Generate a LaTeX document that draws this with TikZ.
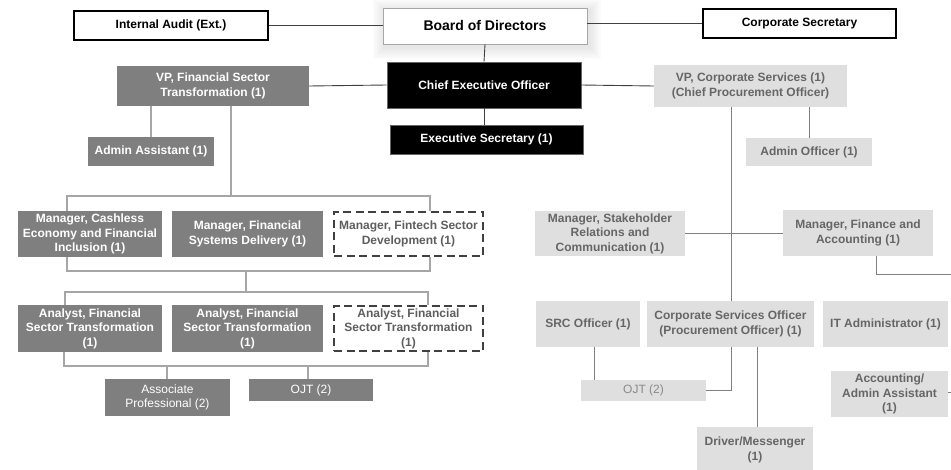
\documentclass[tikz,border=0pt]{standalone}
\usepackage{fontspec}
\setmainfont{Liberation Sans}
\usetikzlibrary{calc}
\definecolor{dgray}{HTML}{7F7F7F}
\definecolor{lgray}{HTML}{DFDFDF}
\definecolor{ltext}{HTML}{666666}
\definecolor{ltextb}{HTML}{8A8A8A}
\definecolor{topline}{HTML}{404040}
\definecolor{lline}{HTML}{A6A6A6}
\definecolor{rline}{HTML}{808080}
\definecolor{dashc}{HTML}{404040}
\definecolor{dashtext}{HTML}{5E5E5E}
\tikzset{
  box/.style={rectangle, inner sep=0pt, align=center, font=\fontsize{12}{14.5}\selectfont\bfseries},
  darkbox/.style={box, fill=dgray, text=white},
  darkplain/.style={darkbox, font=\fontsize{12}{14.5}\selectfont},
  lightbox/.style={box, fill=lgray, text=ltext},
  lightplain/.style={lightbox, font=\fontsize{12}{14.5}\selectfont, text=ltextb},
  outlinebox/.style={box, fill=white, draw=black, line width=1.2pt},
  blackbox/.style={box, fill=black, draw=black!60, line width=0.6pt, text=white},
  dashbox/.style={box, fill=white, draw=dashc, line width=1.9pt, dash pattern=on 8pt off 4.5pt, text=dashtext},
  topconn/.style={draw=topline, line width=0.9pt},
  lconn/.style={draw=lline, line width=1.1pt},
  rconn/.style={draw=rline, line width=1pt},
}
\begin{document}
\begin{tikzpicture}[x=1pt,y=-1pt]
\useasboundingbox (0,0) rectangle (951,470);
\fill[white] (0,0) rectangle (951,470);
% soft shadow of Board
\foreach \s in {12,10,8,6,4,2}{
  \fill[black, opacity=0.016] (383-\s+2,8-\s+3) rectangle (587+\s+2,44+\s+3);
}
% ---------- top ----------
\node[outlinebox, minimum width=194pt, minimum height=29pt] (ia) at (171,25.5) {Internal Audit (Ext.)};
\node[box, fill=white, draw=black!35, line width=0.8pt, minimum width=204pt, minimum height=36pt,
      font=\fontsize{14}{16}\selectfont\bfseries] (bod) at (485,26) {Board of Directors};
\node[outlinebox, minimum width=193pt, minimum height=29pt] (cs) at (799.5,23.5) {Corporate Secretary};
\node[blackbox, minimum width=194pt, minimum height=46pt] (ceo) at (484,85) {Chief Executive Officer};
\node[blackbox, minimum width=193pt, minimum height=29pt] (es) at (486.5,139.5) {Executive Secretary (1)};
% ---------- left branch ----------
\node[darkbox, minimum width=192pt, minimum height=40pt] (vpf) at (213,86) {VP, Financial Sector\\Transformation (1)};
\node[darkbox, minimum width=126pt, minimum height=29pt] (aa) at (151,151.5) {Admin Assistant (1)};
\node[darkbox, minimum width=144pt, minimum height=46pt] (m1) at (90,234) {Manager, Cashless\\Economy and Financial\\Inclusion (1)};
\node[darkbox, minimum width=151pt, minimum height=46pt] (m2) at (247.5,234) {Manager, Financial\\Systems Delivery (1)};
\node[dashbox, minimum width=149pt, minimum height=44pt] (m3) at (408.5,234) {Manager, Fintech Sector\\Development (1)};
\node[darkbox, minimum width=144pt, minimum height=47pt] (a1) at (90,328.5) {Analyst, Financial\\Sector Transformation\\(1)};
\node[darkbox, minimum width=151pt, minimum height=47pt] (a2) at (247.5,328.5) {Analyst, Financial\\Sector Transformation\\(1)};
\node[dashbox, minimum width=149pt, minimum height=45pt] (a3) at (408.5,328.5) {Analyst, Financial\\Sector Transformation\\(1)};
\node[darkplain, minimum width=125pt, minimum height=37pt] (ap) at (167.5,397.5) {Associate\\Professional (2)};
\node[darkplain, minimum width=124pt, minimum height=22pt] (ojtl) at (311,390) {OJT (2)};
% ---------- right branch ----------
\node[lightbox, minimum width=193pt, minimum height=42pt] (vpc) at (750.5,86) {VP, Corporate Services (1)\\(Chief Procurement Officer)};
\node[lightbox, minimum width=126pt, minimum height=28pt] (ao) at (809,152) {Admin Officer (1)};
\node[lightbox, minimum width=150pt, minimum height=45pt] (msr) at (610,233.5) {Manager, Stakeholder\\Relations and\\Communication (1)};
\node[lightbox, minimum width=150pt, minimum height=46pt] (mfa) at (858,233) {Manager, Finance and\\Accounting (1)};
\node[lightbox, minimum width=104pt, minimum height=46pt] (src) at (588,324) {SRC Officer (1)};
\node[lightbox, minimum width=167pt, minimum height=46pt] (cso) at (730.5,324) {Corporate Services Officer\\(Procurement Officer) (1)};
\node[lightbox, minimum width=125pt, minimum height=46pt] (ita) at (885.5,324) {IT Administrator (1)};
\node[lightbox, minimum width=117pt, minimum height=46pt] (aaa) at (889.5,394) {Accounting/\\Admin Assistant\\(1)};
\node[lightplain, minimum width=125pt, minimum height=21pt] (ojtr) at (643.5,390.5) {OJT (2)};
\node[lightbox, minimum width=116pt, minimum height=46pt] (drv) at (755,450) {Driver/Messenger\\(1)};
% ---------- coordinates ----------
\coordinate (vpfDrop) at (231,196);
\coordinate (bL) at (67,196);
\coordinate (bR) at (430,196);
\coordinate (cL) at (67,271);
\coordinate (cR) at (430,271);
\coordinate (cM) at (246,271);
\coordinate (dM) at (246,292);
\coordinate (dL) at (65,292);
\coordinate (dR) at (428,292);
\coordinate (eL) at (64,366);
\coordinate (eR) at (428,366);
\coordinate (eA) at (167,366);
\coordinate (eO) at (308,366);
\coordinate (fa) at (876,275);
\coordinate (edge1) at (951,275);
\coordinate (edge2) at (951,393);
\coordinate (srcx) at (594,0);
\coordinate (csoA) at (731,391);
\coordinate (csoB) at (757,0);
\coordinate (aox) at (809,0);
\coordinate (csox) at (731,0);
% ---------- top connectors ----------
\draw[topconn] (ia.east) -- (ia.east -| bod.west);
\draw[topconn] (cs.west -| bod.east) -- (cs.west);
\draw[topconn] (bod.south) -- (ceo.north);
\draw[topconn] (ceo.south) -- (ceo.south |- es.north);
\draw[topconn] (vpf.east) -- (ceo.west);
\draw[topconn] (ceo.east) -- (vpc.west);
% ---------- left connectors ----------
\draw[lconn] (vpf.south -| aa.north) -- (aa.north);
\draw[lconn] (vpf.south -| vpfDrop) -- (vpfDrop);
\draw[lconn] (m1.north -| bL) -- (bL) -- (bR) -- (m3.north -| bR);
\draw[lconn] (m1.south -| cL) -- (cL) -- (cR) -- (m3.south -| cR);
\draw[lconn] (cM) -- (dM);
\draw[lconn] (a1.north -| dL) -- (dL) -- (dR) -- (a3.north -| dR);
\draw[lconn] (a1.south -| eL) -- (eL) -- (eR) -- (a3.south -| eR);
\draw[lconn] (eA) -- (ap.north -| eA);
\draw[lconn] (eO) -- (ojtl.north -| eO);
% ---------- right connectors ----------
\draw[rconn] (vpc.south -| aox) -- (ao.north -| aox);
\draw[rconn] (vpc.south -| csox) -- (cso.north -| csox);
\draw[rconn] (msr.east) -- (mfa.west |- msr.east);
\draw[rconn] (mfa.south -| fa) -- (fa) -- (edge1);
\draw[rconn] (src.south -| srcx) -- (ojtr.north -| srcx);
\draw[rconn] (cso.south -| csoA) -- (csoA) -- (csoA -| ojtr.east);
\draw[rconn] (cso.south -| csoB) -- (drv.north -| csoB);
\draw[rconn] (aaa.east |- edge2) -- (edge2);
\end{tikzpicture}
\end{document}
